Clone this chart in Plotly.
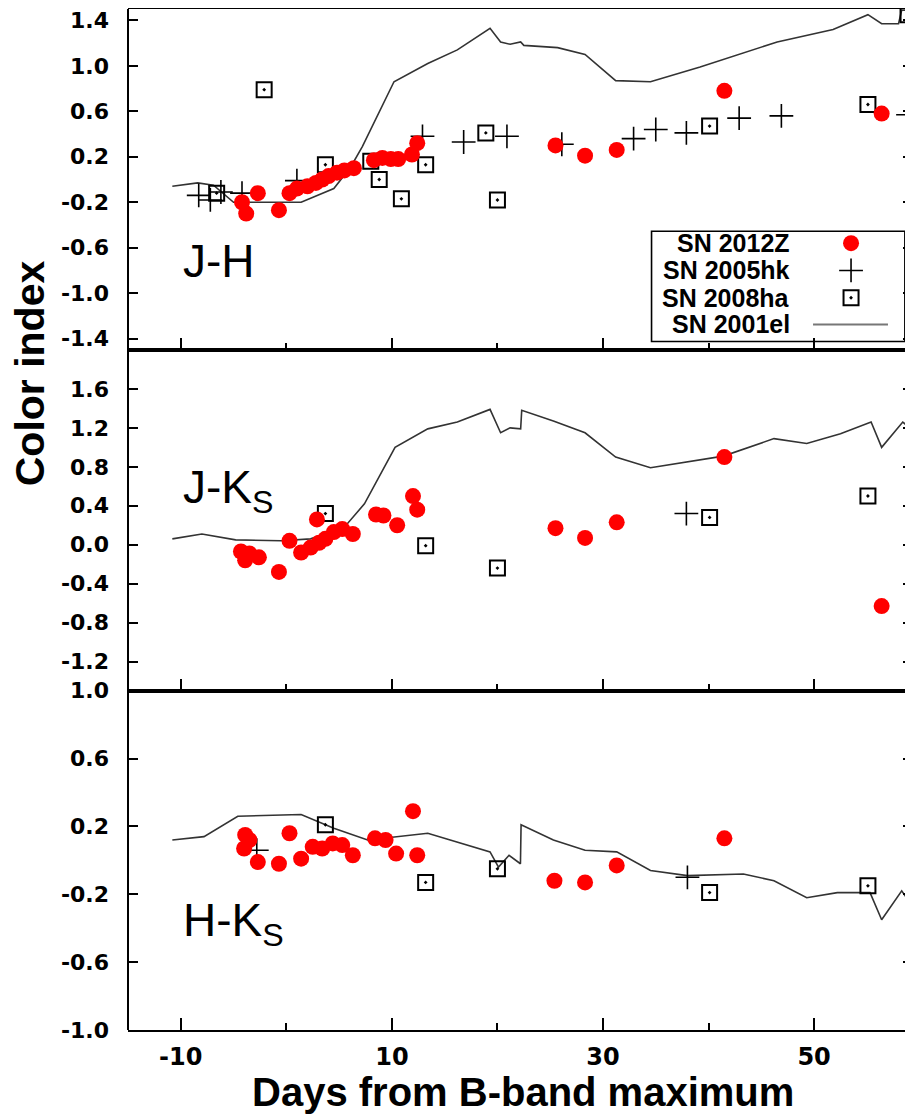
import plotly.graph_objects as go

# ---------------- data ----------------
# J-H
JH_2012Z_day = [-4.2, -3.8, -2.7, -0.7, 0.3, 1.0, 2.0, 2.8, 3.4, 4.0, 4.8, 5.5, 6.4, 8.3, 9.1, 9.9, 10.6, 11.9, 12.4, 25.5, 28.3, 31.3, 41.5, 56.4]
JH_2012Z_val = [-0.20, -0.30, -0.12, -0.27, -0.12, -0.08, -0.06, -0.03, 0.00, 0.03, 0.06, 0.08, 0.10, 0.17, 0.19, 0.18, 0.18, 0.22, 0.32, 0.30, 0.21, 0.26, 0.78, 0.58]
JH_2005hk_day = [-8.3, -7.2, -6.2, -4.2, 1.0, 12.9, 16.8, 20.9, 26.1, 32.9, 35.0, 37.9, 42.9, 46.9, 58.9]
JH_2005hk_val = [-0.14, -0.18, -0.11, -0.12, -0.01, 0.38, 0.33, 0.38, 0.31, 0.36, 0.44, 0.41, 0.54, 0.56, 0.57]
JH_2008ha_day = [-6.6, -2.1, 3.7, 8.0, 8.8, 10.9, 13.2, 18.9, 20.0, 40.1, 55.1, 58.9]
JH_2008ha_val = [-0.12, 0.79, 0.13, 0.16, 0.00, -0.17, 0.13, 0.41, -0.18, 0.47, 0.66, 1.45]
JH_2001el_day = [-10.8, -8.4, -6.9, -5.0, 1.4, 4.5, 6.1, 7.2, 10.2, 13.4, 16.2, 19.3, 20.3, 21.2, 22.2, 22.5, 25.7, 28.3, 31.2, 34.5, 39.2, 46.5, 51.8, 55.1, 56.4, 58.0, 58.3, 59.4]
JH_2001el_val = [-0.06, -0.03, -0.05, -0.20, -0.20, -0.08, 0.11, 0.29, 0.86, 1.02, 1.14, 1.33, 1.21, 1.19, 1.21, 1.18, 1.16, 1.10, 0.87, 0.86, 0.99, 1.21, 1.32, 1.45, 1.37, 1.37, 1.49, 1.49]

# J-Ks
JK_2012Z_day = [-4.3, -3.9, -3.5, -2.6, -0.7, 0.3, 1.4, 2.3, 2.9, 3.1, 3.7, 4.5, 5.3, 6.3, 8.5, 9.2, 10.5, 12.0, 12.4, 25.5, 28.3, 31.3, 41.5, 56.4]
JK_2012Z_val = [-0.07, -0.16, -0.09, -0.13, -0.28, 0.04, -0.08, -0.03, 0.26, 0.02, 0.06, 0.13, 0.16, 0.11, 0.31, 0.30, 0.20, 0.50, 0.36, 0.17, 0.07, 0.23, 0.90, -0.63]
JK_2005hk_day = [37.9]
JK_2005hk_val = [0.32]
JK_2008ha_day = [3.7, 13.2, 20.0, 40.1, 55.1]
JK_2008ha_val = [0.32, -0.01, -0.24, 0.28, 0.50]
JK_2001el_day = [-10.8, -8.0, -4.8, -0.5, 2.3, 5.5, 7.4, 10.3, 13.4, 16.2, 19.3, 20.3, 21.2, 22.2, 22.3, 25.3, 28.3, 31.2, 34.5, 41.4, 46.2, 49.3, 52.5, 55.4, 56.4, 58.4, 59.4]
JK_2001el_val = [0.06, 0.11, 0.05, 0.04, 0.06, 0.18, 0.42, 1.00, 1.19, 1.26, 1.39, 1.15, 1.20, 1.19, 1.38, 1.27, 1.15, 0.90, 0.79, 0.91, 1.09, 1.04, 1.14, 1.26, 1.00, 1.26, 1.17]

# H-Ks
HK_2012Z_day = [-3.9, -3.5, -4.0, -2.7, -0.7, 0.3, 1.4, 2.5, 3.4, 4.4, 5.3, 6.3, 8.4, 9.4, 10.4, 12.0, 12.4, 25.4, 28.3, 31.3, 41.5]
HK_2012Z_val = [0.15, 0.12, 0.07, -0.01, -0.02, 0.16, 0.01, 0.08, 0.07, 0.10, 0.09, 0.03, 0.13, 0.12, 0.04, 0.29, 0.03, -0.12, -0.13, -0.03, 0.13]
HK_2005hk_day = [-2.8, 38.0]
HK_2005hk_val = [0.06, -0.10]
HK_2008ha_day = [3.7, 13.2, 20.0, 40.1, 55.1]
HK_2008ha_val = [0.21, -0.13, -0.05, -0.19, -0.15]
HK_2001el_day = [-10.8, -7.8, -4.6, 1.4, 4.5, 7.7, 13.4, 16.5, 19.3, 20.1, 21.1, 22.18, 22.24, 25.3, 28.3, 31.3, 34.5, 38.0, 43.3, 46.2, 49.3, 52.2, 55.3, 56.4, 58.3, 59.4]
HK_2001el_val = [0.12, 0.14, 0.26, 0.27, 0.19, 0.12, 0.16, 0.10, 0.05, -0.04, 0.03, -0.02, 0.21, 0.12, 0.06, 0.05, -0.06, -0.09, -0.08, -0.12, -0.22, -0.19, -0.19, -0.35, -0.18, -0.28]

# axes ticks
x_tickvals = [-10, 10, 30, 50]
x_ticktext = ["-10", "10", "30", "50"]
JH_tickvals = [1.4, 1.0, 0.6, 0.2, -0.2, -0.6, -1.0, -1.4]
JH_ticktext = ["1.4", "1.0", "0.6", "0.2", "-0.2", "-0.6", "-1.0", "-1.4"]
JK_tickvals = [1.6, 1.2, 0.8, 0.4, 0.0, -0.4, -0.8, -1.2]
JK_ticktext = ["1.6", "1.2", "0.8", "0.4", "0.0", "-0.4", "-0.8", "-1.2"]
HK_tickvals = [1.0, 0.6, 0.2, -0.2, -0.6, -1.0]
HK_ticktext = ["1.0", "0.6", "0.2", "-0.2", "-0.6", "-1.0"]

names = ["SN 2012Z", "SN 2005hk", "SN 2008ha", "SN 2001el"]

# ---------------- figure ----------------
RED = dict(color="#ff0000", size=16, symbol="circle", line=dict(width=0))
CROSS = dict(color="black", size=17, symbol="cross-thin", line=dict(width=1.6, color="black"))
SQUARE = dict(color="black", size=15, symbol="square-open-dot", line=dict(width=2, color="black"))
LINE = dict(color="#333333", width=1.6)

fig = go.Figure()

panels = [
    ("x", "y", JH_2012Z_day, JH_2012Z_val, JH_2005hk_day, JH_2005hk_val, JH_2008ha_day, JH_2008ha_val, JH_2001el_day, JH_2001el_val),
    ("x2", "y2", JK_2012Z_day, JK_2012Z_val, JK_2005hk_day, JK_2005hk_val, JK_2008ha_day, JK_2008ha_val, JK_2001el_day, JK_2001el_val),
    ("x3", "y3", HK_2012Z_day, HK_2012Z_val, HK_2005hk_day, HK_2005hk_val, HK_2008ha_day, HK_2008ha_val, HK_2001el_day, HK_2001el_val),
]
for xa, ya, d1, v1, d2, v2, d3, v3, d4, v4 in panels:
    fig.add_trace(go.Scatter(x=d4, y=v4, mode="lines", line=LINE, xaxis=xa, yaxis=ya, showlegend=False))
    fig.add_trace(go.Scatter(x=d3, y=v3, mode="markers", marker=SQUARE, xaxis=xa, yaxis=ya, showlegend=False))
    fig.add_trace(go.Scatter(x=d2, y=v2, mode="markers", marker=CROSS, xaxis=xa, yaxis=ya, showlegend=False))
    fig.add_trace(go.Scatter(x=d1, y=v1, mode="markers", marker=RED, xaxis=xa, yaxis=ya, showlegend=False))

# custom gnuplot-like key in panel 1
key_text_x = 47.9
key_sym_x = 53.5
key_rows = [-0.56, -0.80, -1.04, -1.275]
fig.add_trace(go.Scatter(x=[key_sym_x], y=[key_rows[0]], mode="markers", marker=RED, xaxis="x", yaxis="y", showlegend=False))
fig.add_trace(go.Scatter(x=[key_sym_x], y=[key_rows[1]], mode="markers", marker=CROSS, xaxis="x", yaxis="y", showlegend=False))
fig.add_trace(go.Scatter(x=[key_sym_x], y=[key_rows[2]], mode="markers", marker=SQUARE, xaxis="x", yaxis="y", showlegend=False))
fig.add_trace(go.Scatter(x=[49.9, 57.0], y=[key_rows[3], key_rows[3]], mode="lines", line=dict(color="#777777", width=2), xaxis="x", yaxis="y", showlegend=False))

annotations = []
for nm, yy in zip(names, key_rows):
    annotations.append(dict(x=key_text_x, y=yy, xref="x", yref="y", text=nm, showarrow=False,
                            xanchor="right", yanchor="middle",
                            font=dict(family="Liberation Sans", size=25, color="black", weight="bold")))

shapes = [
    dict(type="rect", xref="x", yref="y", x0=34.6, x1=58.6, y0=-1.425, y1=-0.455,
         line=dict(color="black", width=1.6), fillcolor="rgba(0,0,0,0)", layer="below"),
    dict(type="line", xref="paper", yref="paper", x0=0, x1=0, y0=0, y1=1,
         line=dict(color="black", width=2)),
]

# panel labels
lab_font = dict(family="Liberation Sans", size=46, color="black")
annotations.append(dict(x=-10, y=-0.72, xref="x", yref="y", text="J-H", showarrow=False,
                        xanchor="left", yanchor="middle", font=lab_font))
annotations.append(dict(x=-10, y=0.56, xref="x2", yref="y2", text="J-K<sub>S</sub>", showarrow=False,
                        xanchor="left", yanchor="middle", font=lab_font))
annotations.append(dict(x=-10, y=-0.37, xref="x3", yref="y3", text="H-K<sub>S</sub>", showarrow=False,
                        xanchor="left", yanchor="middle", font=lab_font))

# axis titles
annotations.append(dict(x=-0.1245, y=0.6435, xref="paper", yref="paper", text="Color index", showarrow=False,
                        textangle=-90, xanchor="center", yanchor="middle",
                        font=dict(family="Liberation Sans", size=41, color="black", weight="bold")))
annotations.append(dict(x=0.503, y=-0.0372, xref="paper", yref="paper", text="Days from B-band maximum",
                        showarrow=False, xanchor="center", yanchor="top",
                        font=dict(family="Liberation Sans", size=40, color="black", weight="bold")))

tickfont_y = dict(family="DejaVu Sans", size=22, color="black", weight="bold")
tickfont_x = dict(family="DejaVu Sans", size=24, color="black", weight="bold")
XR = [-15, 59.37]

def xaxis(show_labels):
    return dict(range=XR, showline=True, linecolor="black", linewidth=2, mirror=True,
                ticks="inside", ticklen=12, tickwidth=1.6, tickcolor="black",
                tickvals=x_tickvals, ticktext=x_ticktext, showticklabels=show_labels,
                tickfont=tickfont_x, ticklabelstandoff=4, automargin=False,
                minor=dict(ticks="inside", ticklen=7, tickwidth=1.6, tickcolor="black", dtick=10, tick0=0),
                showgrid=False, zeroline=False, fixedrange=True)

def yaxis(dom, rng, tv, tt, anchor):
    return dict(domain=dom, range=rng, showline=False, mirror="ticks",
                ticks="inside", ticklen=10, tickwidth=1.6, tickcolor="black",
                tickvals=tv, ticktext=tt, tickfont=tickfont_y, ticklabelstandoff=18,
                automargin=False, showgrid=False, zeroline=False, anchor=anchor)

# the page body has an 8 px default margin, so the figure is sized/offset for it
fig.update_layout(
    width=905, height=1107,
    margin=dict(l=120, r=0, t=1, b=85, autoexpand=False),
    paper_bgcolor="white", plot_bgcolor="white",
    showlegend=False,
    xaxis=dict(**xaxis(False), anchor="y"),
    xaxis2=dict(**xaxis(False), anchor="y2"),
    xaxis3=dict(**xaxis(True), anchor="y3"),
    yaxis=yaxis([0.666, 1.0], [-1.5, 1.5], JH_tickvals, JH_ticktext, "x"),
    yaxis2=yaxis([0.3323, 0.666], [-1.5, 2.0], JK_tickvals, JK_ticktext, "x2"),
    yaxis3=yaxis([0.0, 0.3323], [-1.0, 1.0], HK_tickvals, HK_ticktext, "x3"),
    annotations=annotations,
    shapes=shapes,
)

fig.write_html("out.html")
